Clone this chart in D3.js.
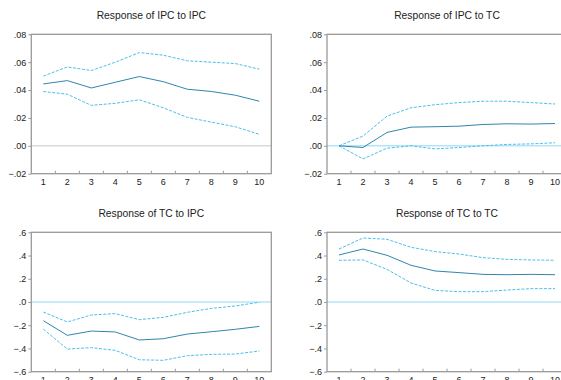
<!DOCTYPE html>
<html lang="en">
<head>
<meta charset="utf-8">
<title>Impulse responses</title>
<script src="https://cdn.jsdelivr.net/npm/d3@7"></script>
<style>
  body { margin: 0; background: #fff; }
  text { font-family: Arial, "Liberation Sans", sans-serif; fill: #222; }
</style>
</head>
<body>
<script>
// periods 1..10
var periods = [1, 2, 3, 4, 5, 6, 7, 8, 9, 10];

// Response of IPC to IPC
var ipcIpc = [0.0444, 0.0468, 0.0415, 0.0456, 0.0497, 0.0460, 0.0406, 0.0390, 0.0363, 0.0320];
var ipcIpcHi = [0.0500, 0.0566, 0.0540, 0.0600, 0.0669, 0.0650, 0.0610, 0.0600, 0.0590, 0.0550];
var ipcIpcLo = [0.0390, 0.0370, 0.0290, 0.0305, 0.0330, 0.0273, 0.0204, 0.0170, 0.0137, 0.0082];

// Response of IPC to TC
var ipcTc = [0.0000, -0.0012, 0.0096, 0.0134, 0.0137, 0.0141, 0.0153, 0.0158, 0.0156, 0.0160];
var ipcTcHi = [0.0000, 0.0070, 0.0213, 0.0273, 0.0295, 0.0310, 0.0320, 0.0320, 0.0310, 0.0300];
var ipcTcLo = [0.0000, -0.0094, -0.0017, 0.0000, -0.0022, -0.0012, 0.0000, 0.0010, 0.0014, 0.0022];

// Response of TC to IPC
var tcIpc = [-0.161, -0.287, -0.250, -0.258, -0.327, -0.316, -0.276, -0.256, -0.235, -0.210];
var tcIpcHi = [-0.086, -0.172, -0.112, -0.100, -0.152, -0.132, -0.089, -0.055, -0.034, -0.002];
var tcIpcLo = [-0.233, -0.405, -0.393, -0.416, -0.497, -0.502, -0.462, -0.451, -0.448, -0.422];

// Response of TC to TC
var tcTc = [0.405, 0.456, 0.402, 0.316, 0.267, 0.253, 0.238, 0.235, 0.238, 0.235];
var tcTcHi = [0.456, 0.551, 0.540, 0.471, 0.434, 0.413, 0.382, 0.367, 0.362, 0.359];
var tcTcLo = [0.359, 0.362, 0.281, 0.164, 0.100, 0.089, 0.089, 0.103, 0.115, 0.115];

var smallTicks = [-0.02, 0, 0.02, 0.04, 0.06, 0.08];
var bigTicks = [-0.6, -0.4, -0.2, 0, 0.2, 0.4, 0.6];

var panels = [
  { title: "Response of IPC to IPC", mid: ipcIpc, hi: ipcIpcHi, lo: ipcIpcLo,
    dom: [-0.02, 0.08], ticks: smallTicks, dec: 2, x0: 31.3, y0: 34.3, y1: 173.7, zero: "#c8c8c8" },
  { title: "Response of IPC to TC", mid: ipcTc, hi: ipcTcHi, lo: ipcTcLo,
    dom: [-0.02, 0.08], ticks: smallTicks, dec: 2, x0: 327, y0: 34.3, y1: 173.7, zero: "#8fd8f5" },
  { title: "Response of TC to IPC", mid: tcIpc, hi: tcIpcHi, lo: tcIpcLo,
    dom: [-0.6, 0.6], ticks: bigTicks, dec: 1, x0: 31.3, y0: 232.3, y1: 371.7, zero: "#8fd8f5" },
  { title: "Response of TC to TC", mid: tcTc, hi: tcTcHi, lo: tcTcLo,
    dom: [-0.6, 0.6], ticks: bigTicks, dec: 1, x0: 327, y0: 232.3, y1: 371.7, zero: "#8fd8f5" }
];

var W = 561, H = 380, pw = 240;

var svg = d3.select("body").append("svg")
  .attr("width", W).attr("height", H);

function fmt(dec) {
  var f = d3.format("." + dec + "f");
  return function(v) {
    if (Math.abs(v) < 1e-9) v = 0;
    return f(v).replace("0.", ".");
  };
}

panels.forEach(function(p) {
  var x = d3.scaleLinear().domain([0.5, 10.5]).range([p.x0, p.x0 + pw]);
  var y = d3.scaleLinear().domain(p.dom).range([p.y1, p.y0]);
  var g = svg.append("g");

  // title
  g.append("text")
    .attr("x", p.x0 + pw / 2)
    .attr("y", p.y0 - 15)
    .attr("text-anchor", "middle")
    .attr("font-size", "10.3px")
    .text(p.title);

  // zero line
  g.append("line")
    .attr("x1", p.x0).attr("x2", p.x0 + pw)
    .attr("y1", y(0)).attr("y2", y(0))
    .attr("stroke", p.zero).attr("stroke-width", 1);

  // frame
  g.append("rect")
    .attr("x", p.x0).attr("y", p.y0)
    .attr("width", pw).attr("height", p.y1 - p.y0)
    .attr("fill", "none").attr("stroke", "#9a9a9a").attr("stroke-width", 1.3);

  // y axis
  var ya = g.append("g")
    .attr("transform", "translate(" + p.x0 + ",0)")
    .call(d3.axisLeft(y).tickValues(p.ticks).tickFormat(fmt(p.dec)).tickSize(3).tickPadding(2));
  ya.select(".domain").remove();
  ya.selectAll(".tick line").attr("stroke", "#9a9a9a");
  ya.selectAll(".tick text").attr("font-size", "9px").attr("font-family", "Arial, 'Liberation Sans', sans-serif").attr("fill", "#222");

  // x axis: boundary ticks pointing inward, labels at periods
  var xa = g.append("g")
    .attr("transform", "translate(0," + p.y1 + ")");
  xa.selectAll("line.xt")
    .data(d3.range(1.5, 10.5, 1))
    .enter().append("line")
    .attr("x1", function(d) { return x(d); })
    .attr("x2", function(d) { return x(d); })
    .attr("y1", 0).attr("y2", -3)
    .attr("stroke", "#9a9a9a");
  xa.selectAll("text")
    .data(periods)
    .enter().append("text")
    .attr("x", function(d) { return x(d); })
    .attr("y", 11.5)
    .attr("text-anchor", "middle")
    .attr("font-size", "9px")
    .text(function(d) { return d; });

  var line = d3.line()
    .x(function(d, i) { return x(periods[i]); })
    .y(function(d) { return y(d); });

  g.append("path").attr("d", line(p.hi))
    .attr("fill", "none").attr("stroke", "#4cbfea").attr("stroke-width", 1)
    .attr("stroke-dasharray", "3,1.5");
  g.append("path").attr("d", line(p.lo))
    .attr("fill", "none").attr("stroke", "#4cbfea").attr("stroke-width", 1)
    .attr("stroke-dasharray", "3,1.5");
  g.append("path").attr("d", line(p.mid))
    .attr("fill", "none").attr("stroke", "#2f86ad").attr("stroke-width", 1);
});
</script>
</body>
</html>
